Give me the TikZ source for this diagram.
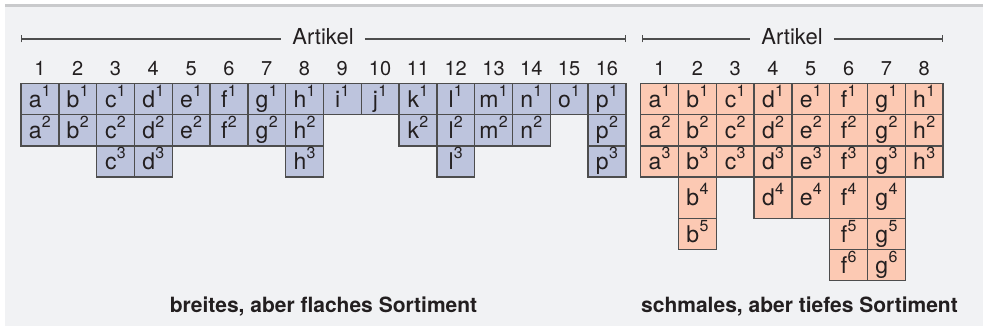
\documentclass[tikz,border=0pt]{standalone}
\usepackage{fontspec}
\setmainfont{TeX Gyre Heros}
\usetikzlibrary{arrows.meta}
\definecolor{bgcol}{HTML}{F1F2F4}
\definecolor{topbar}{HTML}{C9CACC}
\definecolor{bluecol}{HTML}{BDC4DD}
\definecolor{salmon}{HTML}{FCC9B3}
\definecolor{bordercol}{HTML}{4D4D4D}
\definecolor{txtcol}{HTML}{231F20}
\newcommand\cl[2]{#1\kern0.3pt\raisebox{11pt}{\fontsize{16}{16}\selectfont #2}}
\tikzset{
  cellbase/.style={draw=bordercol, line width=1.4pt, minimum width=37.8pt, inner sep=0pt,
    text height=18pt, text depth=1.7pt, text=txtcol, font=\fontsize{23}{23}\selectfont},
  lcell/.style={cellbase, fill=bluecol},
  rcell/.style={cellbase, fill=salmon},
  numlbl/.style={anchor=base, inner sep=0pt, text=txtcol, font=\fontsize{20}{20}\selectfont},
  artlbl/.style={anchor=base, inner xsep=11pt, inner ysep=0pt, text=txtcol, font=\fontsize{22}{22}\selectfont},
  bracketline/.style={draw=bordercol, line width=1.2pt},
  caption/.style={anchor=base, inner sep=0pt, text=txtcol, font=\fontsize{21}{21}\selectfont\bfseries}
}
\begin{document}
\begin{tikzpicture}[x=1pt, y=-1pt]
\useasboundingbox (0,0) rectangle (983,328);
\fill[white] (0,0) rectangle (983,328);
\fill[bgcol] (5,7) rectangle (983,326);
\fill[topbar] (5,4) rectangle (983,7);

% left table
\foreach \l/\n [count=\i] in {a/2,b/2,c/3,d/3,e/2,f/2,g/2,h/3,i/1,j/1,k/2,l/3,m/2,n/2,o/1,p/3}{
  \node[numlbl] (LN\i) at ({21+37.8*(\i-0.5)},76) {\i};
  \foreach \r in {1,...,\n}{
    \pgfmathsetmacro\yc{{98.95,130.25,161.55,197.75,233.9,265.1}[\r-1]}
    \pgfmathsetmacro\hh{{31.3,31.3,31.3,41.1,31.2,31.2}[\r-1]}
    \node[lcell, minimum height=\hh pt] (L\l\r) at ({21+37.8*(\i-0.5)},\yc) {\cl{\l}{\r}};
  }
}
% right table
\foreach \l/\n [count=\i] in {a/3,b/5,c/3,d/4,e/4,f/6,g/6,h/3}{
  \node[numlbl] (RN\i) at ({640.7+37.8*(\i-0.5)},76) {\i};
  \foreach \r in {1,...,\n}{
    \pgfmathsetmacro\yc{{98.95,130.25,161.55,197.75,233.9,265.1}[\r-1]}
    \pgfmathsetmacro\hh{{31.3,31.3,31.3,41.1,31.2,31.2}[\r-1]}
    \node[rcell, minimum height=\hh pt] (R\l\r) at ({640.7+37.8*(\i-0.5)},\yc) {\cl{\l}{\r}};
  }
}

% Artikel brackets
\node[artlbl] (art1) at (323,45) {Artikel};
\coordinate (A1l) at (21,39);
\coordinate (A1r) at (626,39);
\draw[bracketline, {Bar[width=7pt]}-] (A1l) -- (A1l -| art1.west);
\draw[bracketline, -{Bar[width=7pt]}] (A1r -| art1.east) -- (A1r);

\node[artlbl] (art2) at (792,45) {Artikel};
\coordinate (A2l) at (641.5,39);
\coordinate (A2r) at (943.3,39);
\draw[bracketline, {Bar[width=7pt]}-] (A2l) -- (A2l -| art2.west);
\draw[bracketline, -{Bar[width=7pt]}] (A2r -| art2.east) -- (A2r);

% captions
\node[caption] (cap1) at (323.5,312.3) {breites, aber flaches Sortiment};
\node[caption] (cap2) at (799.5,312.3) {schmales, aber tiefes Sortiment};
\end{tikzpicture}
\end{document}
